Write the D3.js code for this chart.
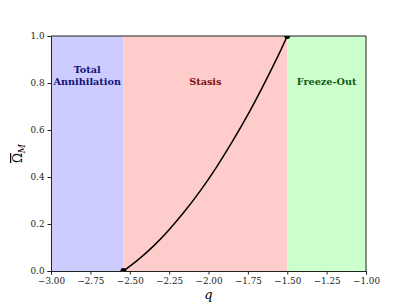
<!DOCTYPE html>
<html>
<head>
<meta charset="utf-8">
<script src="https://cdn.jsdelivr.net/npm/d3@7"></script>
<style>
  body { margin: 0; background: #fff; }
  .tick text { font-family: "DejaVu Serif", serif; font-size: 8.8px; fill: #222; }
  .domain { stroke: #222; }
  .tick line { stroke: #222; }
</style>
</head>
<body>
<div id="chart"></div>
<script>
var width = 407,
    height = 305;

var margin = {left: 51, right: 41, top: 36, bottom: 34};

// regime boundaries
var regions = [
  {name: "blue", from: -3.0, to: -2.54, color: "#ccccff"},
  {name: "pink", from: -2.54, to: -1.5, color: "#ffcccc"},
  {name: "green", from: -1.5, to: -1.0, color: "#ccffcc"}
];
var regionLabels = ["Total\nAnnihilation", "Stasis", "Freeze-Out"];
var labelColors = ["#12127a", "#7a1010", "#145a14"];

// curve
var qValues = [-2.54, -2.45, -2.35, -2.25, -2.15, -2.05, -1.95, -1.85, -1.75, -1.65, -1.55, -1.50];
var omegaValues = [0.0, 0.046, 0.106, 0.176, 0.255, 0.343, 0.441, 0.549, 0.665, 0.792, 0.927, 1.0];
var endpoints = [[-2.54, 0.0], [-1.5, 1.0]];

var xTicks = [-3.0, -2.75, -2.5, -2.25, -2.0, -1.75, -1.5, -1.25, -1.0];
var yTicks = [0.0, 0.2, 0.4, 0.6, 0.8, 1.0];

var x = d3.scaleLinear().domain([-3, -1]).range([margin.left, width - margin.right]);
var y = d3.scaleLinear().domain([0, 1]).range([height - margin.bottom, margin.top]);

var svg = d3.select("#chart").append("svg")
    .attr("width", width)
    .attr("height", height);

svg.append("clipPath").attr("id", "clip")
  .append("rect")
    .attr("x", x(-3)).attr("y", y(1))
    .attr("width", x(-1) - x(-3)).attr("height", y(0) - y(1));

var g = svg.append("g").attr("clip-path", "url(#clip)");

g.selectAll("rect.region")
    .data(regions)
  .enter().append("rect")
    .attr("class", "region")
    .attr("x", function(d) { return x(d.from); })
    .attr("y", y(1))
    .attr("width", function(d) { return x(d.to) - x(d.from); })
    .attr("height", y(0) - y(1))
    .style("fill", function(d) { return d.color; });

var line = d3.line()
    .x(function(d) { return x(d[0]); })
    .y(function(d) { return y(d[1]); })
    .curve(d3.curveCatmullRom);

g.append("path")
    .datum(d3.zip(qValues, omegaValues))
    .attr("d", line)
    .style("fill", "none")
    .style("stroke", "#000")
    .style("stroke-width", 1.5);

g.selectAll("circle.end")
    .data(endpoints)
  .enter().append("circle")
    .attr("class", "end")
    .attr("cx", function(d) { return x(d[0]); })
    .attr("cy", function(d) { return y(d[1]); })
    .attr("r", 3)
    .style("fill", "#000");

// region labels
regions.forEach(function(r, i) {
  var lines = regionLabels[i].split("\n");
  var t = svg.append("text")
      .attr("x", (x(r.from) + x(r.to)) / 2)
      .attr("y", y(0.81) + 4 - (lines.length - 1) * 11.5)
      .attr("text-anchor", "middle")
      .style("font-family", "DejaVu Serif")
      .style("font-weight", "bold")
      .style("font-size", "9.7px")
      .style("fill", labelColors[i]);
  lines.forEach(function(s, j) {
    t.append("tspan")
      .attr("x", (x(r.from) + x(r.to)) / 2)
      .attr("dy", j == 0 ? 0 : 11.5)
      .text(s);
  });
});

// axes
svg.append("g")
    .attr("transform", "translate(0," + y(0) + ")")
    .call(d3.axisBottom(x).tickValues(xTicks).tickSize(3.5).tickPadding(3)
      .tickFormat(function(d) { return d3.format(".2f")(d).replace("-", "\u2212"); }));

svg.append("g")
    .attr("transform", "translate(" + x(-3) + ",0)")
    .call(d3.axisLeft(y).tickValues(yTicks).tickSize(3.5).tickPadding(3)
      .tickFormat(d3.format(".1f")));

svg.append("line")
    .attr("x1", x(-3)).attr("x2", x(-1))
    .attr("y1", y(1)).attr("y2", y(1))
    .style("stroke", "#222");
svg.append("line")
    .attr("x1", x(-1)).attr("x2", x(-1))
    .attr("y1", y(1)).attr("y2", y(0))
    .style("stroke", "#222");

svg.selectAll(".domain").style("stroke-width", 1);

// axis titles
svg.append("text")
    .attr("x", (x(-3) + x(-1)) / 2)
    .attr("y", 299)
    .attr("text-anchor", "middle")
    .style("font-family", "DejaVu Serif")
    .style("font-style", "italic")
    .style("font-size", "13px")
    .text("q");

var yl = svg.append("text")
    .attr("transform", "translate(22," + ((y(0) + y(1)) / 2) + ")rotate(-90)")
    .attr("text-anchor", "middle")
    .style("font-family", "DejaVu Serif")
    .style("font-size", "12px");
yl.append("tspan").style("text-decoration", "overline").text("\u03a9");
yl.append("tspan").attr("dy", 3).style("font-style", "italic").style("font-size", "9px").text("M");
</script>
</body>
</html>
